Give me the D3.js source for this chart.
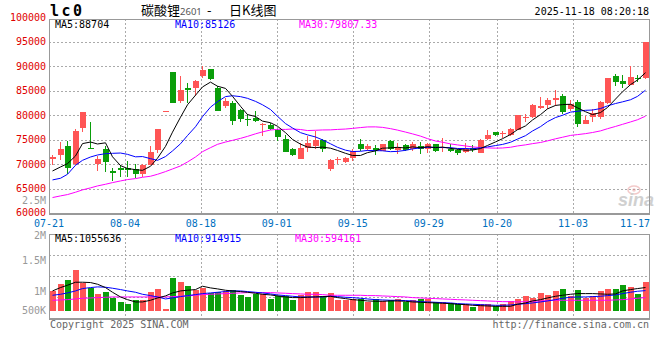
<!DOCTYPE html>
<html>
<head>
<meta charset="utf-8">
<script src="https://cdn.jsdelivr.net/npm/d3@7/dist/d3.min.js"></script>
<style>
body { margin: 0; background: #fff; }
svg text { font-family: "DejaVu Sans Mono", monospace; font-size: 10px; }
</style>
</head>
<body>
<div id="kline"></div>
<script>
var dates = [
    "07-21","07-22","07-23","07-24","07-25","07-28","07-29","07-30","07-31","08-01",
    "08-04","08-05","08-06","08-07","08-08","08-11","08-12","08-13","08-14","08-15",
    "08-18","08-19","08-20","08-21","08-22","08-25","08-26","08-27","08-28","08-29",
    "09-01","09-02","09-03","09-04","09-05","09-08","09-09","09-10","09-11","09-12",
    "09-15","09-16","09-17","09-18","09-19","09-22","09-23","09-24","09-25","09-26",
    "09-29","09-30","10-09","10-10","10-13","10-14","10-15","10-16","10-17","10-20",
    "10-21","10-22","10-23","10-24","10-27","10-28","10-29","10-30","10-31","11-03",
    "11-04","11-05","11-06","11-07","11-10","11-11","11-12","11-13","11-14","11-17"
];
var open = [
    71050,71870,73640,69970,77310,73230,69970,73030,68610,69150,
    69290,68950,68060,69830,72820,80850,88950,82890,85480,85480,
    87930,89560,85610,81870,82550,80990,79290,79350,77990,77990,
    76970,75070,73030,71050,73370,73710,74860,69080,70920,70510,
    71190,74050,73100,73230,72690,74730,72890,73840,73030,73710,
    73030,74050,73230,73160,72890,72550,73300,72350,75070,76630,
    76220,75950,76970,79490,79690,81530,82010,83160,83840,81190,
    82760,78270,79690,79690,82550,88000,86910,86290,87590,87650
];
var high = [
    71870,74520,74730,77250,80650,78540,71740,73640,69150,69830,
    70650,69970,69970,73640,77110,80920,88950,87930,86700,87110,
    90170,89560,85950,83570,82890,81190,80170,80850,78330,78470,
    77250,75950,73370,74390,75750,76840,75070,71050,71460,71460,
    73160,75070,74050,73840,74050,75000,74390,74050,74520,74590,
    74390,74180,75270,74050,73030,74390,73840,75200,76900,76630,
    76770,77450,79970,80170,82210,83710,83440,85070,84390,83030,
    83030,79830,81190,82960,87520,88400,88330,90030,88200,95040
];
var low = [
    69830,70780,67930,69830,76630,73100,68610,68400,66570,67450,
    67450,67250,67450,69760,72350,80850,82480,82480,82550,83910,
    87590,87180,80850,81530,77990,78670,77790,78670,75750,76970,
    74730,72480,71670,71050,72480,73030,72550,68680,70100,70310,
    70650,72690,72690,71800,72690,72890,72140,72690,72690,72140,
    72210,72550,72550,72550,71800,72350,72550,72350,74860,75750,
    75270,75820,76970,78670,79490,81190,81190,81870,80170,80850,
    77590,78130,78670,79150,82280,85950,85540,86160,86840,87500
];
var close = [
    71460,73030,69220,76700,80580,73100,70990,70440,68270,68880,
    68810,67930,69760,72410,77110,80920,82480,85070,85140,86910,
    89350,87450,80850,82890,78810,79150,79010,78810,78200,77180,
    75540,72480,71870,73370,74250,74860,73030,70780,71050,71330,
    72690,73030,73640,72890,74050,73030,73570,72960,74050,73160,
    74050,72690,73500,72690,72350,73030,72820,75000,75880,75950,
    76360,77110,79970,79690,82010,81870,83030,83440,80580,82350,
    78200,79020,80500,82690,87520,86840,86450,87800,87450,95000
];
var ma5 = [
    68600,69420,70100,71670,74200,74520,74120,74360,71500,69700,
    69100,68870,68730,69560,71210,73630,76540,79600,82140,84100,
    85790,86780,85940,85490,83870,81830,80140,79740,78800,78470,
    77750,76440,75050,74090,73500,73370,73480,73260,72800,72210,
    71770,71770,72350,72710,73260,73330,73440,73300,73530,73350,
    73560,73380,73490,73220,73050,72850,72880,73180,73820,74540,
    75200,76060,77050,77820,79030,80130,81310,82010,82180,82250,
    81520,80720,80130,80550,81590,83310,84800,86260,87210,88704
];
var ma10 = [
    66770,67110,67920,69760,70780,71460,71870,72140,72210,72270,
    72000,71490,71550,71120,70770,71550,72700,74160,75850,77650,
    79710,81660,82770,83820,83990,83810,83460,82840,82140,81170,
    79790,78290,77400,76440,75990,75560,74960,74160,73440,72860,
    72570,72630,72800,72760,72730,72550,72610,72820,73120,73310,
    73440,73410,73390,73370,73200,73200,73130,73330,73520,73800,
    74030,74470,75120,75820,76780,77670,78690,79530,80000,80640,
    80820,81010,81070,81370,81920,82400,82740,83170,83860,85126
];
var ma30 = [
    63160,63500,63770,64250,64730,65140,65540,65880,66220,66560,
    66840,67040,67310,67520,67920,68470,69010,69630,70440,71460,
    72550,73370,74050,74520,74860,75270,75680,76200,76600,76980,
    77120,77100,77190,77080,76870,76930,76990,77010,77100,77180,
    77310,77480,77610,77620,77520,77260,76960,76560,76190,75730,
    75220,74730,74480,74140,73930,73720,73520,73390,73310,73270,
    73300,73450,73720,73940,74190,74430,74760,75180,75500,75870,
    76040,76240,76470,76800,77250,77710,78140,78630,79080,79807.33
];
var volume = [
    899000,1208000,1393000,1854000,1268000,1056000,779000,839000,562000,377000,
    285000,470000,470000,839000,978000,54000,1485000,1314000,1116000,945000,
    1056000,807000,839000,899000,963000,700000,622000,779000,779000,530000,
    687000,668000,484000,733000,839000,839000,668000,807000,470000,502000,
    530000,516000,391000,516000,424000,470000,548000,410000,470000,516000,
    530000,391000,391000,345000,318000,285000,161000,318000,318000,193000,
    285000,438000,530000,655000,576000,807000,700000,899000,978000,655000,
    950000,576000,655000,899000,1000000,978000,1150000,1080000,779000,1300000
];
var vma5 = [
    900,1054,1162,1300,1300,1285,1208,1054,839,623,
    500,393,393,470,577,670,808,900,931,962,
    1116,1039,993,931,900,870,839,793,746,716,
    670,623,593,593,608,623,639,654,593,547,
    500,470,439,424,424,439,439,424,393,378,
    362,347,332,316,286,270,239,224,209,193,
    193,193,286,347,439,500,577,654,700,746,
    777,777,777,762,746,762,900,962,1008,1055.636
].map(function (v) { return v * 1000; });
var vma10 = [
    700,746,808,900,1008,1054,1085,1070,1024,962,
    900,839,746,685,623,531,577,639,685,731,
    777,808,839,870,900,900,870,839,808,762,
    716,685,654,623,623,623,623,654,639,608,
    593,562,531,500,485,470,470,454,439,408,
    393,378,362,347,316,301,286,270,255,239,
    239,255,286,316,347,393,439,500,562,608,
    623,623,639,654,685,716,777,839,885,914.915
].map(function (v) { return v * 1000; });
var vma30 = [
    470,485,500,531,562,577,593,608,623,623,
    623,623,623,623,623,623,639,654,670,700,
    731,746,762,777,793,808,823,823,823,823,
    808,793,777,762,746,746,731,700,700,700,
    700,700,685,685,670,654,639,623,593,577,
    562,547,531,516,500,485,470,454,439,424,
    408,408,393,408,424,439,454,470,470,470,
    470,470,470,470,470,485,500,531,562,594.161
].map(function (v) { return v * 1000; });

var dateTicks = ["07-21","08-04","08-18","09-01","09-15","09-29","10-20","11-03","11-17"];
var priceTicks = [60000,65000,70000,75000,80000,85000,90000,95000,100000];
var volTicks = [500000,1000000,1500000,2000000,2500000];
var volTickText = ["500K","1M","1.5M","2M","2.5M"];

var RED = "#ff5555", GREEN = "#0a9e0a";
var width = 660, height = 360;
var left = 49, right = 649;
var pTop = 19, pBottom = 213, vTop = 234, vBottom = 318;

var svg = d3.select("#kline").append("svg")
    .attr("width", width)
    .attr("height", height);

var idx = d3.range(dates.length);
var x = d3.scaleBand().domain(idx).range([left, right]);
var xt = d3.scaleLinear().domain([0, dates.length - 1]).range([left, right]);
var y = d3.scaleLinear().domain([60000, 100000]).range([pBottom, 17.5]);
var vy = d3.scaleLinear().domain([0, 2000000]).range([310.5, 267]);
var vLabel = d3.scaleLinear().domain([1000000, 2500000]).range([291, 200.5]);

function cx(i) { return Math.floor(x(i) + x.bandwidth() / 2); }

// grid
var grid = svg.append("g")
    .attr("stroke", "#aaa")
    .attr("stroke-dasharray", "2,2")
    .attr("shape-rendering", "crispEdges");

grid.selectAll(".ph").data(priceTicks.slice(1, -1)).enter().append("line")
    .attr("x1", left).attr("x2", right)
    .attr("y1", d => Math.round(y(d)) + 0.5).attr("y2", d => Math.round(y(d)) + 0.5);

var innerTicks = dateTicks.slice(1, -1).map(d => dates.indexOf(d));
grid.selectAll(".pv").data(innerTicks).enter().append("line")
    .attr("x1", d => Math.round(xt(d)) + 0.5).attr("x2", d => Math.round(xt(d)) + 0.5)
    .attr("y1", pTop).attr("y2", pBottom);
grid.selectAll(".vv").data(innerTicks).enter().append("line")
    .attr("x1", d => Math.round(xt(d)) + 0.5).attr("x2", d => Math.round(xt(d)) + 0.5)
    .attr("y1", vTop).attr("y2", vBottom);
grid.selectAll(".vh").data([1, 2, 3]).enter().append("line")
    .attr("x1", left).attr("x2", right)
    .attr("y1", d => Math.round(vTop + (vBottom - vTop) * d / 4) + 0.5)
    .attr("y2", d => Math.round(vTop + (vBottom - vTop) * d / 4) + 0.5);

// watermark
var wm = svg.append("g").attr("opacity", 0.45);
wm.append("ellipse").attr("cx", 634).attr("cy", 190).attr("rx", 6).attr("ry", 4)
    .attr("fill", "none").attr("stroke", "#e58a8a").attr("stroke-width", 1.5);
wm.append("circle").attr("cx", 634).attr("cy", 190).attr("r", 1.8).attr("fill", "#e58a8a");
wm.append("text").attr("x", 636).attr("y", 206).attr("text-anchor", "middle")
    .style("font-family", "'Liberation Sans', Arial, sans-serif")
    .style("font-size", "18px").style("font-style", "italic").style("font-weight", "bold")
    .attr("fill", "#999").text("sina");

// candles
var candles = svg.append("g").attr("shape-rendering", "crispEdges");
idx.forEach(function (i) {
    var up = close[i] >= open[i];
    var col = up ? RED : GREEN;
    var px = cx(i);
    candles.append("line")
        .attr("x1", px + 0.5).attr("x2", px + 0.5)
        .attr("y1", y(high[i])).attr("y2", y(low[i]))
        .attr("stroke", col);
    var top = y(Math.max(open[i], close[i]));
    var bot = y(Math.min(open[i], close[i]));
    candles.append("rect")
        .attr("x", px - 2).attr("width", 6)
        .attr("y", top).attr("height", Math.max(1, bot - top))
        .attr("fill", col);
});

// volume bars
svg.append("g").attr("shape-rendering", "crispEdges")
    .selectAll("rect").data(idx).enter().append("rect")
    .attr("x", i => cx(i) - 2).attr("width", 6)
    .attr("y", i => vy(volume[i]))
    .attr("height", i => Math.max(1, vy(0) - vy(volume[i])))
    .attr("fill", i => close[i] >= open[i] ? RED : GREEN);

// moving averages
var line = d3.line().x((d, i) => cx(i) + 0.5).y(d => y(d));
var vline = d3.line().x((d, i) => cx(i) + 0.5).y(d => vy(d));
[[ma30, "#ff00ff"], [ma10, "#0000ff"], [ma5, "#000"]].forEach(function (m) {
    svg.append("path").datum(m[0]).attr("d", line)
        .attr("fill", "none").attr("stroke", m[1]).attr("stroke-width", 1);
});
[[vma30, "#ff00ff"], [vma10, "#0000ff"], [vma5, "#000"]].forEach(function (m) {
    svg.append("path").datum(m[0]).attr("d", vline)
        .attr("fill", "none").attr("stroke", m[1]).attr("stroke-width", 1);
});

// frames
var frame = svg.append("g").attr("fill", "none").attr("stroke", "#999")
    .attr("shape-rendering", "crispEdges");
frame.append("rect").attr("x", left + 0.5).attr("y", pTop + 0.5)
    .attr("width", right - left).attr("height", pBottom - pTop);
frame.append("rect").attr("x", left + 0.5).attr("y", vTop + 0.5)
    .attr("width", right - left).attr("height", vBottom - vTop);
frame.append("line").attr("x1", left).attr("x2", right + 1)
    .attr("y1", pBottom + 1.5).attr("y2", pBottom + 1.5);
frame.append("line").attr("x1", left).attr("x2", right + 1)
    .attr("y1", vBottom + 1.5).attr("y2", vBottom + 1.5);

// price labels
svg.append("g").selectAll("text").data(priceTicks).enter().append("text")
    .attr("x", 46).attr("y", d => Math.min(y(d), pBottom - 0.8)).attr("dy", "0.35em")
    .attr("text-anchor", "end").attr("fill", "#e00000")
    .text(d => d);

// volume labels; 2M sits just under the date row
svg.append("g").selectAll("text").data(volTicks).enter().append("text")
    .attr("x", 46)
    .attr("y", d => d === 2000000 ? 235.6 : Math.min(vLabel(d), 310))
    .attr("dy", "0.35em")
    .attr("text-anchor", "end").attr("fill", "#999")
    .text((d, i) => volTickText[i]);

// date labels
svg.append("g").selectAll("text").data(dateTicks).enter().append("text")
    .attr("x", function (d) {
        var p = xt(dates.indexOf(d));
        return Math.min(Math.max(p, left - 15), right + 1 - 15);
    })
    .attr("y", 227.4).attr("text-anchor", "middle").attr("fill", "#0070c0")
    .text(d => d);

// headers
svg.append("text").attr("x", 50).attr("y", 16)
    .style("font-size", "15px").style("font-weight", "bold")
    .style("letter-spacing", "2.5px").attr("fill", "#000").text("lc0");

var title = svg.append("text").attr("y", 15)
    .style("font-family", "'Noto Sans CJK SC', sans-serif").style("font-size", "13px");
title.append("tspan").attr("x", 141).attr("fill", "#000").text("碳酸锂");
title.append("tspan").attr("fill", "#555").style("font-family", "'Noto Sans', sans-serif")
    .style("font-size", "9.5px").text("2601");
title.append("tspan").attr("x", 207).attr("fill", "#000").text("-");
title.append("tspan").attr("x", 229).attr("fill", "#000").text("日K线图");

svg.append("text").attr("x", 649).attr("y", 15).attr("text-anchor", "end")
    .attr("fill", "#000").text("2025-11-18 08:20:18");

var legend = [
    ["MA5:88704", "#000", 55], ["MA10:85126", "#0000ff", 175], ["MA30:79807.33", "#ff00ff", 299]
];
legend.forEach(function (l) {
    svg.append("text").attr("x", l[2]).attr("y", 28).attr("fill", l[1]).text(l[0]);
});
var vlegend = [
    ["MA5:1055636", "#000", 55], ["MA10:914915", "#0000ff", 175], ["MA30:594161", "#ff00ff", 295]
];
vlegend.forEach(function (l) {
    svg.append("text").attr("x", l[2]).attr("y", 242).attr("fill", l[1]).text(l[0]);
});

svg.append("text").attr("x", 50).attr("y", 328).attr("fill", "#666")
    .text("Copyright 2025 SINA.COM");
svg.append("text").attr("x", 649).attr("y", 328).attr("text-anchor", "end")
    .attr("fill", "#666").text("http://finance.sina.com.cn");
</script>
</body>
</html>
